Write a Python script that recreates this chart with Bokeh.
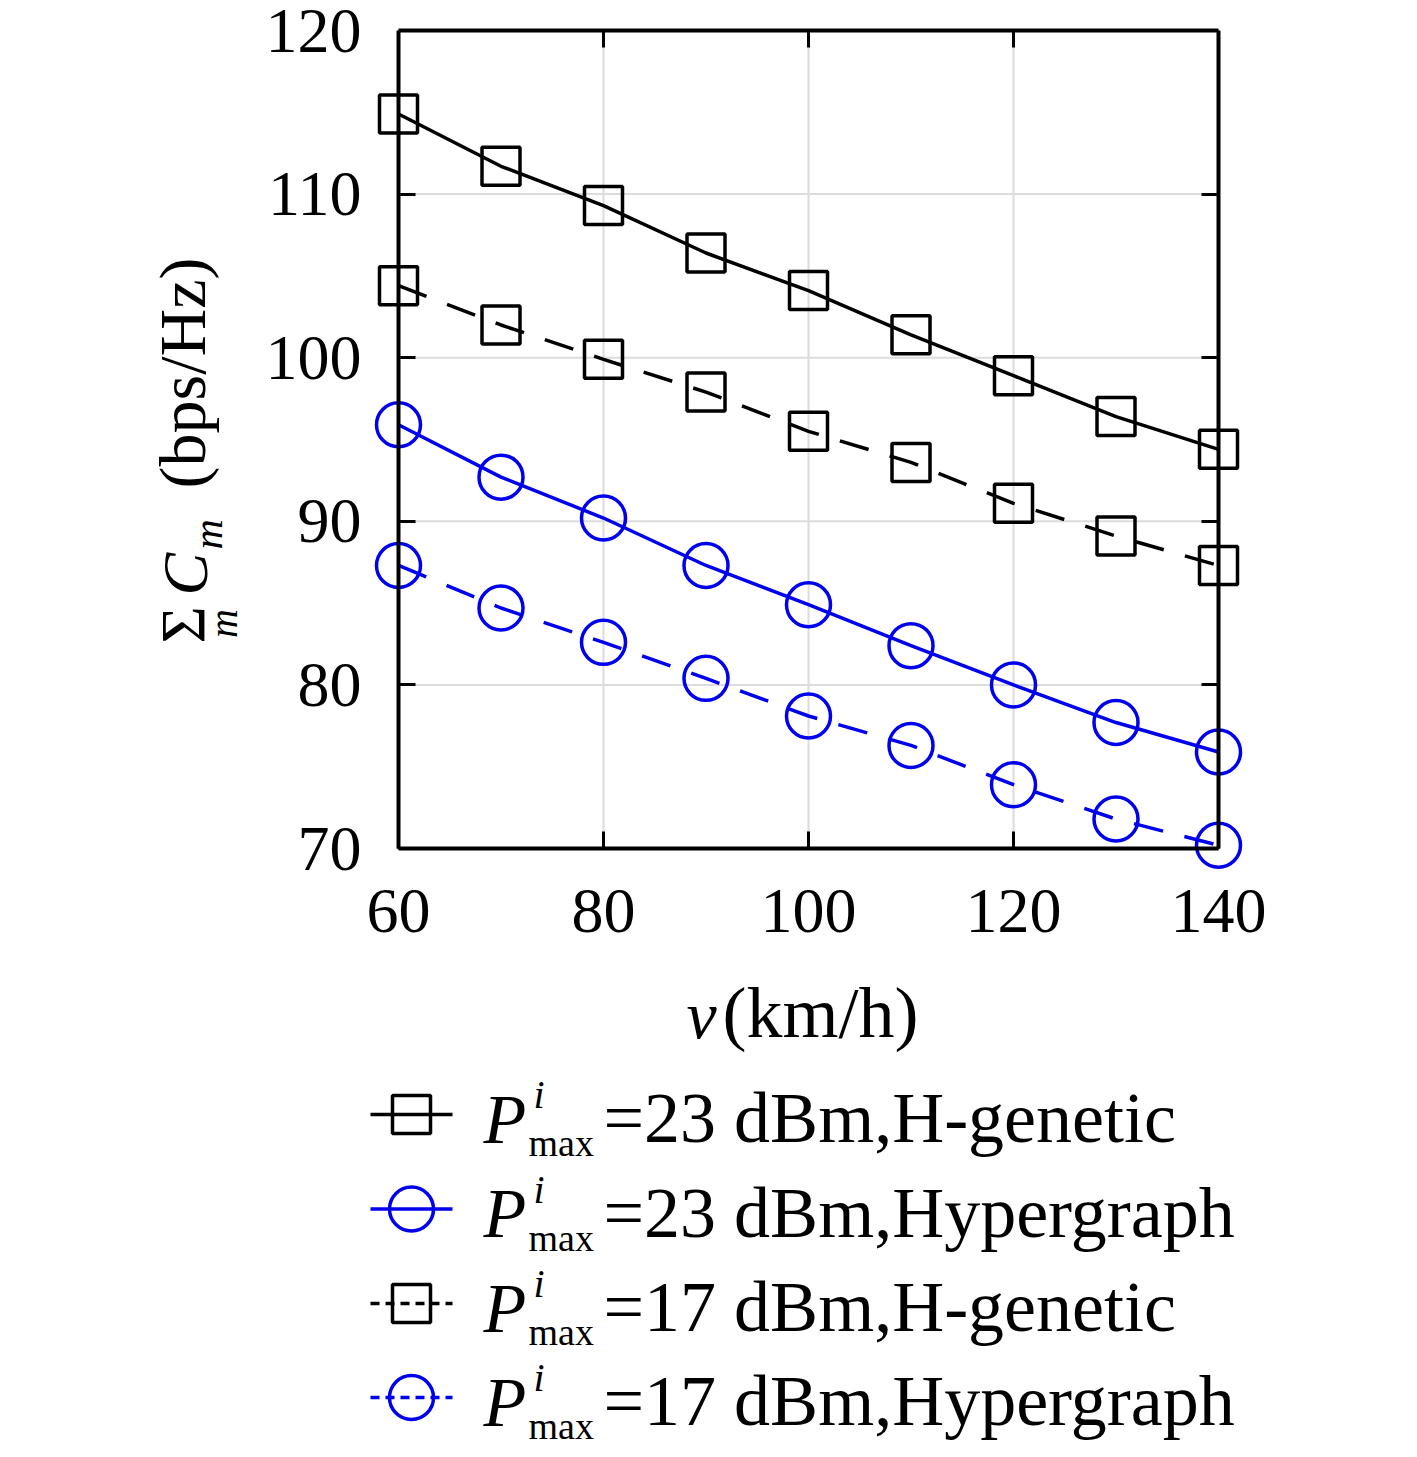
import numpy as np
from bokeh.plotting import figure
from bokeh.models import Range1d, LinearAxis, FixedTicker, Label
from bokeh.layouts import row
from bokeh.embed import file_html
from bokeh.resources import INLINE

# ---------------- data ----------------
speed = [60, 70, 80, 90, 100, 110, 120, 130, 140]
hgen_23 = [114.9, 111.7, 109.3, 106.4, 104.1, 101.4, 98.9, 96.4, 94.4]
hyper_23 = [95.9, 92.7, 90.2, 87.3, 84.9, 82.4, 80.0, 77.7, 75.9]
hgen_17 = [104.4, 102.0, 99.9, 97.9, 95.5, 93.6, 91.1, 89.1, 87.3]
hyper_17 = [87.3, 84.7, 82.6, 80.4, 78.1, 76.3, 73.9, 71.8, 70.2]
x_ticks = [60, 80, 100, 120, 140]
y_ticks = [70, 80, 90, 100, 110, 120]
legend_power = ["23", "23", "17", "17"]
legend_method = ["H-genetic", "Hypergraph", "H-genetic", "Hypergraph"]

FONT = "Liberation Serif"
BLUE = "#0000ee"
LW = 3.5      # data lines
AW = 4        # box edges
MW = 3.5      # marker outlines

series = [
    (hgen_23, "black", "square", "solid", 38),
    (hyper_23, BLUE, "circle", "solid", 44),
    (hgen_17, "black", "square", "30 22", 38),
    (hyper_17, BLUE, "circle", "30 22", 44),
]

# ---------------- page geometry (px) ----------------
BOX_L, BOX_T, BOX_W, BOX_H = 398, 30, 820, 818   # the drawn axes box
PAD = 25                                          # room so edge markers are not clipped
YL_W = 250
FR_L = BOX_L - PAD
FR_W = BOX_W + 2 * PAD
FR_H = BOX_H + PAD
BOT = 90
TOP_H = BOX_T + FR_H + BOT
LG_H = 1457 - TOP_H - 4


def lab(fig, x, y, text, size, style="normal", align="left", rotated=False):
    """Label whose alphabetic baseline sits at (x, y) in data px."""
    shift = 0.35 * size
    if rotated:
        x, y, ang = x - shift, y, np.pi / 2
    else:
        x, y, ang = x, y + shift, 0.0
    fig.add_layout(Label(x=x, y=y, text=text, text_font=FONT,
                         text_font_size=f"{size}px", text_font_style=style,
                         text_align=align, text_baseline="alphabetic",
                         angle=ang, text_color="black"))


def blank_fig(w, h, **kw):
    f = figure(frame_width=w, frame_height=h,
               x_range=Range1d(0, w), y_range=Range1d(0, h),
               x_axis_location=None, y_axis_location=None,
               output_backend="svg", toolbar_location=None,
               outline_line_color=None, background_fill_color="white",
               border_fill_color="white", **kw)
    f.grid.visible = False
    return f

# ---------------- y-label strip ----------------
yl = blank_fig(YL_W, FR_H, min_border_left=0, min_border_right=0,
               min_border_top=BOX_T, min_border_bottom=BOT)

def yy(py):  # page y -> yl data y
    return (BOX_T + FR_H) - py

lab(yl, 205, yy(643), "Σ", 64, rotated=True)
lab(yl, 237, yy(623), "m", 40, style="italic", align="center", rotated=True)
lab(yl, 207, yy(595), "C", 64, style="italic", rotated=True)
lab(yl, 222, yy(549), "m", 42, style="italic", rotated=True)
lab(yl, 205, yy(488), "(bps/Hz)", 66, rotated=True)

# ---------------- main figure ----------------
dx = (x_ticks[-1] - x_ticks[0]) / BOX_W
dy = (y_ticks[-1] - y_ticks[0]) / BOX_H
p = figure(frame_width=FR_W, frame_height=FR_H,
           x_range=Range1d(x_ticks[0] - PAD * dx, x_ticks[-1] + PAD * dx),
           y_range=Range1d(y_ticks[0] - PAD * dy, y_ticks[-1]),
           x_axis_location=None, y_axis_location=None,
           min_border_left=FR_L - YL_W, min_border_right=1401 - FR_L - FR_W,
           min_border_top=BOX_T, min_border_bottom=BOT,
           output_backend="svg", toolbar_location=None,
           outline_line_color=None,
           background_fill_color="white", border_fill_color="white")
p.grid.visible = False


def label_axis(ticks, standoff):
    """Axis that only carries the tick labels (at the frame edge)."""
    ax = LinearAxis(ticker=FixedTicker(ticks=ticks))
    ax.axis_line_color = None
    ax.major_tick_line_color = None
    ax.minor_tick_line_color = None
    ax.major_tick_in = 0
    ax.major_tick_out = 0
    ax.major_label_text_font = FONT
    ax.major_label_text_font_size = "64px"
    ax.major_label_text_color = "black"
    ax.major_label_standoff = standoff
    return ax


def line_axis(ticks, bounds, loc=None):
    """Axis that draws the box edge and the inward ticks."""
    ax = LinearAxis(ticker=FixedTicker(ticks=ticks), bounds=bounds,
                    fixed_location=loc)
    ax.major_tick_in = 17
    ax.major_tick_out = 0
    ax.minor_tick_line_color = None
    ax.major_tick_line_width = 3
    ax.major_tick_line_color = "black"
    ax.axis_line_width = AW
    ax.axis_line_color = "black"
    ax.major_label_text_font_size = "0px"
    ax.major_label_text_color = None
    ax.major_label_standoff = 0
    return ax

xb = (x_ticks[0], x_ticks[-1])
yb = (y_ticks[0], y_ticks[-1])
p.add_layout(label_axis(x_ticks, 16), "below")
p.add_layout(label_axis(y_ticks, 12), "left")
p.add_layout(line_axis(x_ticks, xb, loc=y_ticks[0]), "below")
p.add_layout(line_axis(y_ticks, yb, loc=x_ticks[0]), "left")
p.add_layout(line_axis(x_ticks, xb), "above")
p.add_layout(line_axis(y_ticks, yb, loc=x_ticks[-1]), "right")

# grid lines at the tick positions, inside the axes box
nx, ny = len(x_ticks), len(y_ticks)
p.segment(x0=x_ticks, y0=[y_ticks[0]] * nx, x1=x_ticks, y1=[y_ticks[-1]] * nx,
          line_color="#dcdcdc", line_width=2)
p.segment(x0=[x_ticks[0]] * ny, y0=y_ticks, x1=[x_ticks[-1]] * ny, y1=y_ticks,
          line_color="#dcdcdc", line_width=2)

for vals, color, marker, dash, size in series:
    p.line(speed, vals, line_color=color, line_width=LW, line_dash=dash)
    p.scatter(speed, vals, marker=marker, size=size, fill_color=None,
              line_color=color, line_width=MW)

# ---------------- x-label + legend strip ----------------
lg = blank_fig(1401, LG_H, min_border=0)

def ly(py):  # page y -> lg data y
    return LG_H - (py - TOP_H)

lab(lg, 686, ly(1038), "v", 68, style="italic")
lab(lg, 722, ly(1038), "(km/h)", 72)

row_y = [1114, 1208.5, 1303, 1397]
for k, (vals, color, marker, dash, size) in enumerate(series):
    cy = row_y[k]
    ldash = "solid" if dash == "solid" else "9 6"
    lg.line([370, 452], [ly(cy), ly(cy)], line_color=color,
            line_width=LW, line_dash=ldash)
    lg.scatter([411], [ly(cy)], marker=marker, size=size,
               fill_color=None, line_color=color, line_width=MW)
    lab(lg, 483, ly(cy + 29), "P", 70, style="italic")
    lab(lg, 533, ly(cy - 6), "i", 40, style="italic")
    lab(lg, 528, ly(cy + 42), "max", 38)
    lab(lg, 603, ly(cy + 29),
        f"={legend_power[k]} dBm,{legend_method[k]}", 72)

open("out.html", "w").write(file_html([row(yl, p), lg], INLINE))
